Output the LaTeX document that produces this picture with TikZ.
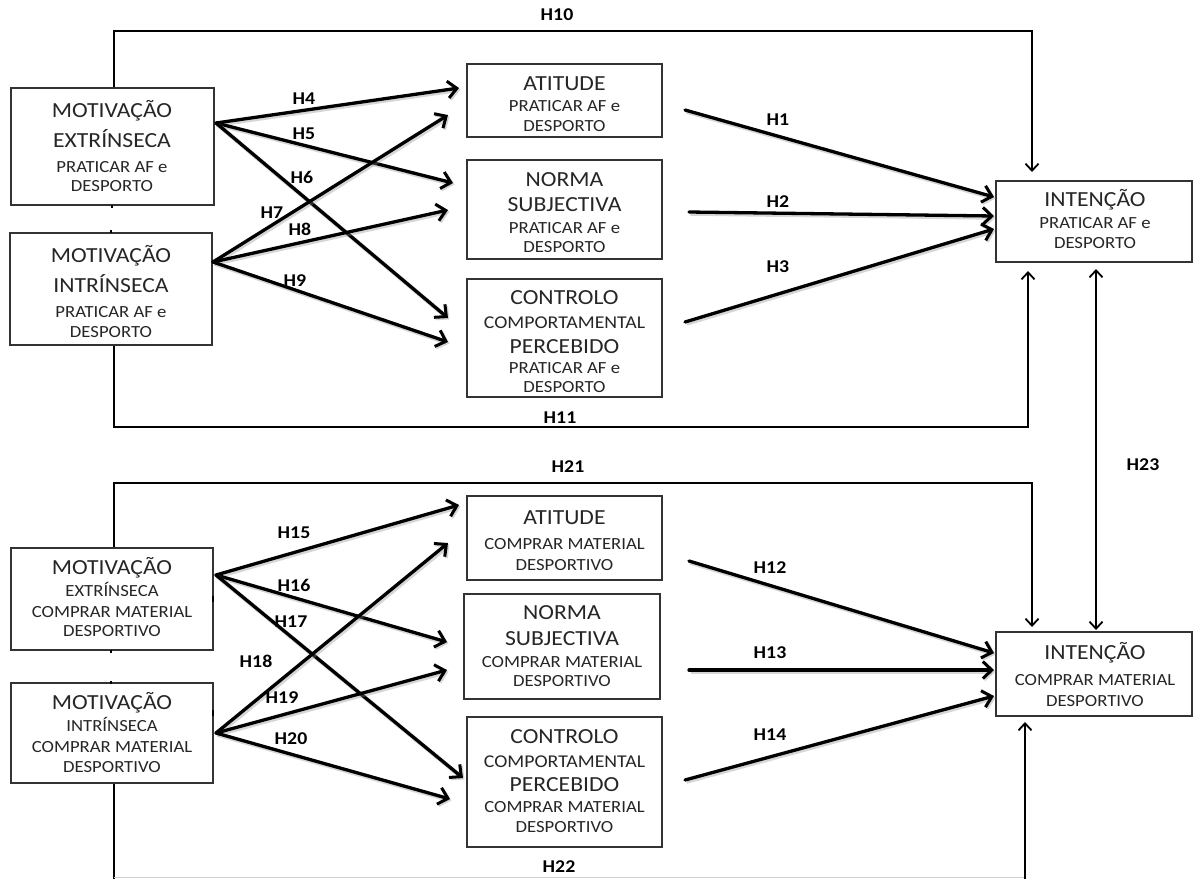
\documentclass[tikz,border=0pt]{standalone}
\usepackage{fontspec}
\setmainfont{Carlito}[FakeStretch=1.1]
\usetikzlibrary{arrows.meta}
\newcommand\tl[4]{\node[#1] (#2) at (#3) {#4};}
\begin{document}
\begin{tikzpicture}[x=1pt,y=-1pt,
  box/.style={draw=black!80, line width=1.2pt, inner sep=0pt},
  L/.style={font=\fontsize{21.5}{25}\selectfont, text=black!85, anchor=base, yshift=-6.9pt, inner sep=0pt},
  S/.style={font=\fontsize{17}{20}\selectfont, text=black!85, anchor=base, yshift=-5.5pt, inner sep=0pt},
  M/.style={font=\fontsize{18}{22}\selectfont, text=black!85, anchor=base, yshift=-5.8pt, inner sep=0pt},
  H/.style={font=\bfseries\fontsize{18}{21}\selectfont, anchor=base, yshift=-5.8pt, inner sep=0pt},
  arr/.style={line width=3.3pt, line cap=round, -{Straight Barb[length=9pt,width=17pt,line width=3pt]},
    preaction={draw=black!45, opacity=0.35, line width=4.5pt, transform canvas={shift={(1.5pt,-1.5pt)}}}},
  fb/.style={line width=2pt, -{Straight Barb[length=7pt,width=13pt,line width=1.8pt]}},
  fbb/.style={line width=2pt, {Straight Barb[length=7pt,width=13pt,line width=1.8pt]}-{Straight Barb[length=7pt,width=13pt,line width=1.8pt]}},
  tick/.style={line width=2pt}
]
\useasboundingbox (0,0) rectangle (1197,879);
\fill[white] (0,0) rectangle (1197,879);

% ---------------- boxes (top) ----------------
\node[box, minimum width=203pt, minimum height=117pt] (me1) at (112.5,146.5) {};
\node[box, minimum width=202pt, minimum height=112pt] (mi1) at (111,289) {};
\node[box, minimum width=195pt, minimum height=73pt]  (at1) at (564.5,100.5) {};
\node[box, minimum width=195pt, minimum height=99pt]  (no1) at (564.5,209.5) {};
\node[box, minimum width=195pt, minimum height=118pt] (co1) at (564.5,338) {};
\node[box, minimum width=196pt, minimum height=81pt]  (in1) at (1094,221.5) {};
% ---------------- boxes (bottom) ----------------
\node[box, minimum width=202pt, minimum height=102pt] (me2) at (112,599) {};
\node[box, minimum width=202pt, minimum height=100pt] (mi2) at (112,733) {};
\node[box, minimum width=195pt, minimum height=84pt]  (at2) at (564.5,538) {};
\node[box, minimum width=196pt, minimum height=105pt] (no2) at (562,646.5) {};
\node[box, minimum width=195pt, minimum height=130pt] (co2) at (564.5,782) {};
\node[box, minimum width=196pt, minimum height=84pt]  (in2) at (1094,674) {};

% ---------------- texts (top) ----------------
\tl{L}{me1a}{112,111}{MOTIVAÇÃO}
\tl{L}{me1b}{112,141}{EXTRÍNSECA}
\tl{S}{me1c}{112,167}{PRATICAR AF e}
\tl{S}{me1d}{112,186}{DESPORTO}
\tl{L}{mi1a}{111,256}{MOTIVAÇÃO}
\tl{L}{mi1b}{111,286}{INTRÍNSECA}
\tl{S}{mi1c}{111,312}{PRATICAR AF e}
\tl{S}{mi1d}{111,332}{DESPORTO}
\tl{L}{at1a}{564.5,84}{ATITUDE}
\tl{S}{at1b}{564.5,106}{PRATICAR AF e}
\tl{S}{at1c}{564.5,126}{DESPORTO}
\tl{L}{no1a}{564.5,180}{NORMA}
\tl{L}{no1b}{564.5,205}{SUBJECTIVA}
\tl{S}{no1c}{564.5,228}{PRATICAR AF e}
\tl{S}{no1d}{564.5,247}{DESPORTO}
\tl{L}{co1a}{564.5,298}{CONTROLO}
\tl{M}{co1b}{564.5,323}{COMPORTAMENTAL}
\tl{L}{co1c}{564.5,347}{PERCEBIDO}
\tl{S}{co1d}{564.5,368}{PRATICAR AF e}
\tl{S}{co1e}{564.5,387}{DESPORTO}
\tl{L}{in1a}{1095,200}{INTENÇÃO}
\tl{S}{in1b}{1095,223}{PRATICAR AF e}
\tl{S}{in1c}{1095,243}{DESPORTO}
% ---------------- texts (bottom) ----------------
\tl{L}{me2a}{112,568}{MOTIVAÇÃO}
\tl{S}{me2b}{112,591}{EXTRÍNSECA}
\tl{S}{me2c}{112,612}{COMPRAR MATERIAL}
\tl{S}{me2d}{112,631}{DESPORTIVO}
\tl{L}{mi2a}{112,703}{MOTIVAÇÃO}
\tl{S}{mi2b}{112,726}{INTRÍNSECA}
\tl{S}{mi2c}{112,747}{COMPRAR MATERIAL}
\tl{S}{mi2d}{112,767}{DESPORTIVO}
\tl{L}{at2a}{564.5,518}{ATITUDE}
\tl{S}{at2b}{564.5,544}{COMPRAR MATERIAL}
\tl{S}{at2c}{564.5,565}{DESPORTIVO}
\tl{L}{no2a}{562,613}{NORMA}
\tl{L}{no2b}{562,639}{SUBJECTIVA}
\tl{S}{no2c}{562,662}{COMPRAR MATERIAL}
\tl{S}{no2d}{562,681}{DESPORTIVO}
\tl{L}{co2a}{564.5,737}{CONTROLO}
\tl{M}{co2b}{564.5,762}{COMPORTAMENTAL}
\tl{L}{co2c}{564.5,785}{PERCEBIDO}
\tl{S}{co2d}{564.5,807}{COMPRAR MATERIAL}
\tl{S}{co2e}{564.5,827}{DESPORTIVO}
\tl{L}{in2a}{1095,653}{INTENÇÃO}
\tl{S}{in2b}{1095,680}{COMPRAR MATERIAL}
\tl{S}{in2c}{1095,701}{DESPORTIVO}

% ---------------- arrow end coordinates ----------------
\coordinate (sE1) at (216,123);
\coordinate (sI1) at (213,262);
\coordinate (tA1a) at (459,88);
\coordinate (tN1a) at (453,183);
\coordinate (tC1a) at (448,318);
\coordinate (tA1b) at (448,115);
\coordinate (tN1b) at (448,210);
\coordinate (tC1b) at (448,342);
\coordinate (oA1) at (685,110);
\coordinate (oN1) at (689,212);
\coordinate (oC1) at (685,322);
\coordinate (iA1) at (994,197);
\coordinate (iN1) at (994,216);
\coordinate (iC1) at (994,229);

\coordinate (sE2) at (216,575);
\coordinate (sI2) at (216,733);
\coordinate (tA2a) at (459,505);
\coordinate (tN2a) at (447,642);
\coordinate (tC2a) at (463,778);
\coordinate (tA2b) at (448,543);
\coordinate (tN2b) at (447,670);
\coordinate (tC2b) at (450,799);
\coordinate (oA2) at (689,561);
\coordinate (oN2) at (689,670);
\coordinate (oC2) at (685,780);
\coordinate (iA2) at (994,653);
\coordinate (iN2) at (994,670);
\coordinate (iC2) at (994,696);

% ---------------- thick arrows ----------------
\draw[arr] (sE1) -- (tA1a);
\draw[arr] (sE1) -- (tN1a);
\draw[arr] (sE1) -- (tC1a);
\draw[arr] (sI1) -- (tA1b);
\draw[arr] (sI1) -- (tN1b);
\draw[arr] (sI1) -- (tC1b);
\draw[arr] (oA1) -- (iA1);
\draw[arr] (oN1) -- (iN1);
\draw[arr] (oC1) -- (iC1);

\draw[arr] (sE2) -- (tA2a);
\draw[arr] (sE2) -- (tN2a);
\draw[arr] (sE2) -- (tC2a);
\draw[arr] (sI2) -- (tA2b);
\draw[arr] (sI2) -- (tN2b);
\draw[arr] (sI2) -- (tC2b);
\draw[arr] (oA2) -- (iA2);
\draw[arr] (oN2) -- (iN2);
\draw[arr] (oC2) -- (iC2);

% ---------------- feedback lines ----------------
\coordinate (f10) at (1032,172);
\coordinate (f11) at (1028,271);
\coordinate (f21) at (1032,627);
\coordinate (f22) at (1025,722);
\coordinate (f23a) at (1096,269);
\coordinate (f23b) at (1096,630);
\coordinate (bl) at (114,879);
\coordinate (br) at (1025,879);

\draw[fb] (me1.north -| 114,0) |- (1032,30.5) -- (f10);
\draw[fb] (mi1.south -| 114,0) |- (1028,427) -- (f11);
\draw[fb] (me2.north -| 114,0) |- (1032,483) -- (f21);
\draw[fbb] (f23a) -- (f23b);
\draw[line width=2pt] (mi2.south -| 114,0) -- (bl);
\draw[gray!35, line width=1.5pt] (114,877.5) -- (1025,877.5);
\draw[fb] (br) -- (f22);

% small marks
\draw[tick] (112,205) -- (112,207.5);
\draw[tick] (111,230) -- (111,233);
\draw[tick] (111,650) -- (111,652.5);
\draw[tick] (111,681) -- (111,683.5);
\draw[line width=2.5pt] (213,596) -- (213,602);
\draw[line width=2.5pt] (213,710) -- (213,716);

% ---------------- labels ----------------
\tl{H}{h10}{557,15}{H10}
\tl{H}{h11}{560,418}{H11}
\tl{H}{h4}{304,99}{H4}
\tl{H}{h5}{304,134}{H5}
\tl{H}{h6}{302,178}{H6}
\tl{H}{h7}{272,213}{H7}
\tl{H}{h8}{300,230}{H8}
\tl{H}{h9}{295,281}{H9}
\tl{H}{h1}{778,120}{H1}
\tl{H}{h2}{778,202}{H2}
\tl{H}{h3}{778,267}{H3}
\tl{H}{h23}{1143,465}{H23}
\tl{H}{h21}{568,467}{H21}
\tl{H}{h22}{559,867}{H22}
\tl{H}{h15}{294,533}{H15}
\tl{H}{h16}{294,586}{H16}
\tl{H}{h17}{291,622}{H17}
\tl{H}{h18}{256,662}{H18}
\tl{H}{h19}{282,698}{H19}
\tl{H}{h20}{291,739}{H20}
\tl{H}{h12}{770,568}{H12}
\tl{H}{h13}{770,653}{H13}
\tl{H}{h14}{770,735}{H14}
\end{tikzpicture}
\end{document}
